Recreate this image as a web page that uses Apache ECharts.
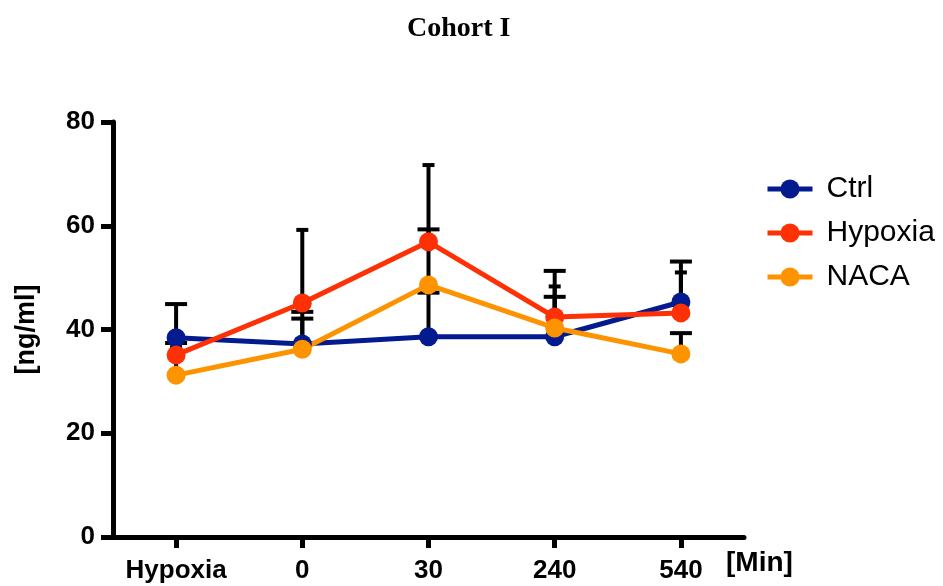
<!DOCTYPE html>
<html>
<head>
<meta charset="utf-8">
<script src="https://cdn.jsdelivr.net/npm/echarts@6/dist/echarts.min.js"></script>
<style>
  html, body { margin: 0; padding: 0; background: #fff; }
  #chart { width: 943px; height: 586px; }
</style>
</head>
<body>
<div id="chart"></div>
<script>
// Time points
const categories = ['Hypoxia', '0', '30', '240', '540'];

// Group means [ng/ml]
const ctrlMean    = [38.4, 37.2, 38.6, 38.6, 45.3];
const hypoxiaMean = [35.1, 45.1, 56.9, 42.4, 43.2];
const nacaMean    = [31.2, 36.2, 48.6, 40.3, 35.3];

// Upper error (SD)
const ctrlErr    = [6.5, 6.2, 8.5, 7.7, 7.8];
const hypoxiaErr = [1.5, 14.1, 14.8, 5.9, 7.8];
const nacaErr    = [6.2, 5.9, 10.7, 11.0, 4.0];

const yTicks = { min: 0, max: 80, step: 20 };

const colors = { Ctrl: '#031b8e', Hypoxia: '#fe3005', NACA: '#fe9300' };

const AX = '#000';
const SANS = '"Liberation Sans", Arial, Helvetica, sans-serif';

function errorSeries(name, mean, err, capHalf) {
  return {
    type: 'custom',
    name: name + ' SD',
    z: 1,
    silent: true,
    data: mean.map((m, i) => [i, m, m + err[i]]),
    renderItem: function (params, api) {
      const base = api.coord([api.value(0), api.value(1)]);
      const top = api.coord([api.value(0), api.value(2)]);
      const style = { stroke: AX, lineWidth: 4, lineCap: 'butt' };
      return {
        type: 'group',
        children: [
          { type: 'line', shape: { x1: base[0], y1: base[1], x2: top[0], y2: top[1] }, style: style },
          { type: 'line', shape: { x1: top[0] - capHalf, y1: top[1], x2: top[0] + capHalf, y2: top[1] }, style: style }
        ]
      };
    }
  };
}

function lineSeries(name, mean) {
  return {
    type: 'line',
    name: name,
    z: 3,
    data: mean,
    symbol: 'circle',
    symbolSize: 19,
    color: colors[name],
    lineStyle: { width: 5, color: colors[name] },
    itemStyle: { color: colors[name] }
  };
}

const chart = echarts.init(document.getElementById('chart'), null, { renderer: 'canvas' });

chart.setOption({
  animation: false,
  backgroundColor: '#fff',
  title: {
    text: 'Cohort I',
    left: 402,
    top: 10,
    textStyle: { fontFamily: '"Liberation Serif", "Times New Roman", serif', fontWeight: 'bold', fontSize: 28, color: '#000' }
  },
  legend: {
    left: 760,
    top: 169,
    orient: 'vertical',
    itemWidth: 45,
    itemHeight: 24,
    itemGap: 14,
    lineStyle: { width: 5 },
    data: ['Ctrl', 'Hypoxia', 'NACA'],
    textStyle: { fontFamily: SANS, fontSize: 30, color: '#000', lineHeight: 30, padding: [0, 0, 0, 9] }
  },
  grid: { left: 113, right: 199, top: 122, bottom: 49, containLabel: false },
  xAxis: {
    type: 'category',
    data: categories,
    boundaryGap: true,
    name: '[Min]',
    nameLocation: 'end',
    nameGap: -18,
    nameTextStyle: { fontFamily: SANS, fontWeight: 'bold', fontSize: 28, color: '#000', verticalAlign: 'top', padding: [12, 0, 0, 0] },
    axisLine: { show: true, lineStyle: { color: AX, width: 5 } },
    axisTick: { show: true, alignWithLabel: true, length: 11, lineStyle: { color: AX, width: 5 } },
    axisLabel: { interval: 0, fontFamily: SANS, fontWeight: 'bold', fontSize: 26, color: '#000', margin: 21 },
    splitLine: { show: false }
  },
  yAxis: {
    type: 'value',
    min: yTicks.min,
    max: yTicks.max,
    interval: yTicks.step,
    name: '[ng/ml]',
    nameLocation: 'middle',
    nameRotate: 90,
    nameGap: 73,
    nameTextStyle: { fontFamily: SANS, fontWeight: 'bold', fontSize: 27, color: '#000' },
    axisLine: { show: true, lineStyle: { color: AX, width: 5 } },
    axisTick: { show: true, length: 12, lineStyle: { color: AX, width: 5 } },
    axisLabel: { fontFamily: SANS, fontWeight: 'bold', fontSize: 26, color: '#000', margin: 18 },
    splitLine: { show: false }
  },
  series: [
    errorSeries('Ctrl', ctrlMean, ctrlErr, 11),
    errorSeries('Hypoxia', hypoxiaMean, hypoxiaErr, 6),
    errorSeries('NACA', nacaMean, nacaErr, 11),
    lineSeries('Ctrl', ctrlMean),
    lineSeries('Hypoxia', hypoxiaMean),
    lineSeries('NACA', nacaMean)
  ]
});
</script>
</body>
</html>
